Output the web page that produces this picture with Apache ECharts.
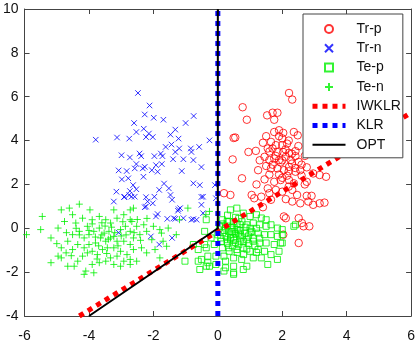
<!DOCTYPE html>
<html>
<head>
<meta charset="utf-8">
<script src="https://cdn.jsdelivr.net/npm/echarts@6/dist/echarts.min.js"></script>
<style>
html, body { margin: 0; padding: 0; background: #fff; }
#chart { width: 418px; height: 343px; }
</style>
</head>
<body>
<div id="chart"></div>
<script>
// training positives (red circles)
const trainPos = [
  [2.21,6.17],[2.31,5.87],[0.77,5.52],[0.90,4.95],[1.53,5.15],[1.70,5.27],[1.85,5.27],[1.75,4.95],
  [0.54,4.14],[1.75,4.39],[1.90,4.47],[2.03,4.35],[2.36,4.39],[2.48,4.24],[1.65,3.94],[1.80,3.79],
  [2.00,3.79],[2.15,3.86],[0.95,3.48],[1.18,3.53],[1.55,3.64],[1.70,3.64],[1.85,3.48],[2.03,3.48],
  [2.21,3.44],[2.41,3.52],[0.46,3.14],[1.45,3.26],[1.60,3.11],[1.75,3.18],[1.90,3.11],[2.11,3.26],
  [2.26,3.11],[2.41,3.29],[2.51,3.03],[1.25,2.65],[1.50,2.84],[1.65,2.73],[1.85,2.73],[2.05,2.65],
  [2.21,2.80],[2.41,2.58],[2.56,2.65],[2.76,2.78],[2.96,2.50],[3.16,2.43],[3.36,2.35],[0.75,2.28],
  [1.45,2.23],[1.75,2.12],[1.95,2.20],[2.21,2.20],[2.36,2.05],[2.76,2.12],[1.55,1.82],[1.80,1.75],
  [2.00,1.67],[2.31,1.75],[2.46,1.52],[2.76,1.48],[2.91,1.48],[1.13,1.37],[1.35,1.44],[1.65,1.30],
  [2.11,1.33],[2.31,1.22],[2.56,1.14],[2.81,1.22],[2.96,1.07],[3.16,1.14],[3.31,1.17],[1.40,0.96],
  [2.05,0.54],[2.11,0.46],[2.51,0.46],[2.61,0.24],[2.84,0.09],[2.66,0.09],[2.03,-0.29],[2.51,-0.67],
  [0.39,1.52],[0.49,4.12],[0.19,1.60],[1.05,1.52],[1.95,3.00],[2.30,2.95],[1.60,2.45],[2.60,2.90],
  [2.00,4.10],[2.50,3.75],[1.40,3.90],[2.70,3.30],[1.90,2.45],[2.15,2.40],[1.60,3.50],[1.80,3.30],
  [2.10,3.60],[2.30,3.40],[1.70,2.90],[2.00,3.10],[2.20,2.60],[1.90,4.20],[2.20,4.00],[1.50,4.20],
  [2.40,2.75],[2.60,2.40],[1.30,3.10],[2.00,2.30],[2.70,2.00],[1.20,2.00],[1.60,1.60],[2.20,1.90]
];
// training negatives (blue crosses)
const trainNeg = [
  [-2.48,6.17],[-2.12,5.60],[-2.27,5.19],[-1.99,5.04],[-1.69,4.95],[-0.75,5.12],[-2.60,4.80],[-1.00,4.80],
  [-2.53,4.39],[-2.30,4.54],[-2.23,4.16],[-2.02,4.16],[-2.14,4.32],[-1.32,4.50],[-1.47,4.27],[-1.22,4.09],
  [-0.26,4.01],[-3.79,4.04],[-3.13,4.14],[-2.75,4.09],[-1.62,3.71],[-1.44,3.82],[-1.20,3.64],[-1.32,3.48],
  [-0.84,3.64],[-0.58,3.71],[-2.99,3.33],[-2.73,3.23],[-2.43,3.41],[-2.38,3.29],[-1.97,3.29],[-1.77,3.41],
  [-1.72,3.29],[-1.39,3.15],[-1.07,3.15],[-0.82,3.48],[-0.76,3.11],[-2.53,2.93],[-2.27,2.80],[-1.92,2.88],
  [-1.74,2.93],[-0.51,2.79],[-3.08,2.64],[-2.83,2.61],[-2.58,2.73],[-2.33,2.73],[-2.05,2.65],[-1.87,2.58],
  [-1.12,2.61],[-2.98,2.23],[-2.78,2.28],[-2.31,2.35],[-1.67,2.04],[-0.76,2.05],[-0.56,1.97],[-2.63,1.97],
  [-2.73,1.70],[-2.53,1.78],[-3.15,1.67],[-1.82,1.75],[-1.52,1.82],[-1.47,1.52],[-2.91,1.42],[-2.75,1.52],
  [-2.23,1.42],[-1.97,1.44],[-1.42,1.30],[-0.51,1.43],[-3.23,1.22],[-2.23,0.99],[-2.18,1.22],[-2.02,1.14],
  [-1.17,0.92],[-1.24,0.80],[-1.87,0.65],[-1.92,0.54],[-0.51,1.07],[-0.46,0.69],[-1.57,0.43],[-1.37,0.46],
  [-1.07,0.46],[-0.82,0.39],[-0.66,0.39],[-0.09,1.97],[-0.06,1.37],[-2.68,1.44],[-2.27,0.96],[-1.32,0.43],
  [-1.22,0.87],[-0.76,0.42],[-2.08,-0.37],[-1.42,-0.44],[-1.82,-0.74],[-2.90,1.44],[-2.58,1.44],[-3.08,-0.20],
  [-0.46,1.44]
];
// test positives (green squares)
const testPos = [
  [0.39,0.84],[0.59,0.92],[0.79,0.69],[1.00,0.54],[1.20,0.62],[1.35,0.47],[1.50,0.39],[0.14,0.39],
  [0.29,0.31],[0.49,0.31],[0.69,0.16],[0.90,0.16],[1.10,0.24],[1.30,0.16],[1.50,0.09],[1.65,0.16],
  [1.85,0.01],[2.00,-0.06],[0.24,0.01],[0.44,-0.14],[0.64,-0.22],[0.85,-0.22],[1.05,-0.14],[1.25,-0.22],
  [1.45,-0.29],[1.65,-0.29],[1.85,-0.37],[0.09,-0.44],[0.29,-0.52],[0.49,-0.44],[0.69,-0.59],[0.90,-0.52],
  [1.10,-0.59],[1.30,-0.67],[1.50,-0.67],[1.75,-0.74],[1.95,-0.67],[-0.11,-0.74],[0.14,-0.89],[0.34,-0.89],
  [0.59,-0.97],[0.79,-0.89],[1.00,-1.05],[1.25,-0.97],[1.45,-1.05],[1.90,-1.05],[-0.31,-1.27],[-0.06,-1.27],
  [0.19,-1.27],[0.49,-1.35],[0.74,-1.42],[1.10,-1.35],[1.35,-1.35],[1.65,-1.20],[1.85,-1.42],[-0.36,-1.73],
  [-0.06,-1.65],[0.24,-1.80],[0.49,-1.73],[0.90,-1.73],[1.55,-1.65],[0.49,-2.10],[0.19,-1.95],[0.79,-1.88],
  [2.36,0.09],[2.41,0.16],[-0.36,0.39],[-0.41,-0.14],[-0.21,-0.44],[-0.36,-0.89],[-0.76,-0.74],[-0.61,-0.97],
  [-0.41,-0.74],[-0.51,-1.42],[-0.26,-1.73],[-0.61,-1.50],[0.49,-2.03],[0.24,-1.50],[-1.02,-1.50],[-0.56,-1.88],
  [-0.31,-1.57],[2.00,-0.29],[2.00,-0.67],[0.40,-0.30],[0.60,-0.05],[0.75,-0.40],[0.35,-0.15],[0.55,-0.65],
  [0.95,-0.35],[0.15,-0.20],[1.15,-0.80],[0.65,0.45],[1.00,0.00],[0.30,0.60],[0.80,-1.20],[1.30,-0.45],
  [0.05,0.10],[0.20,-0.10],[0.30,0.10],[0.45,0.05],[0.55,-0.25],[0.70,-0.10],[0.85,0.05],[0.60,0.20],
  [0.40,-0.45],[0.25,-0.35],[0.50,-0.55],[0.70,-0.30],[0.80,-0.60],[0.65,-0.75],[0.45,-0.80],[0.30,-0.70],
  [1.00,-0.20],[1.10,-0.45],[0.95,-0.70],[1.20,0.00],[0.10,-0.60],[0.35,0.30],[0.55,0.50],[0.15,0.20],
  [0.75,0.30],[0.90,-0.95],[0.60,-1.10],[0.35,-1.05],[1.20,-1.10],[0.00,-0.30],[0.50,-0.15]
];
// test negatives (green pluses)
const testNeg = [
  [-5.94,-0.29],[-5.50,-0.06],[-5.45,0.54],[-4.86,0.84],[-4.61,0.92],[-4.30,1.10],[-3.97,0.84],[-3.23,0.84],
  [-5.18,-0.44],[-4.96,0.01],[-4.76,0.31],[-4.51,0.62],[-4.41,0.24],[-4.20,0.46],[-4.05,0.09],[-3.90,0.39],
  [-3.68,0.54],[-3.48,0.39],[-3.33,0.24],[-3.13,0.46],[-2.92,0.62],[-2.72,0.39],[-2.62,0.92],[-4.86,-0.89],
  [-4.66,-0.59],[-4.51,-0.29],[-4.30,-0.14],[-4.15,-0.44],[-4.00,-0.29],[-3.85,-0.14],[-3.68,0.01],[-3.53,-0.22],
  [-3.38,-0.14],[-3.23,-0.37],[-3.02,-0.06],[-2.87,0.09],[-2.72,-0.14],[-4.96,-1.27],[-4.71,-1.12],[-4.51,-0.97],
  [-4.35,-0.74],[-4.15,-0.89],[-4.00,-0.74],[-3.80,-0.67],[-3.64,-0.44],[-3.48,-0.59],[-3.33,-0.44],[-3.13,-0.59],
  [-2.92,-0.59],[-2.72,-0.74],[-5.18,-1.57],[-4.86,-1.35],[-4.35,-1.50],[-4.20,-1.27],[-4.05,-1.12],[-3.90,-1.05],
  [-3.74,-1.20],[-3.58,-0.97],[-3.43,-0.89],[-3.23,-0.89],[-3.02,-1.05],[-2.82,-1.20],[-4.46,-1.73],[-4.10,-1.95],
  [-3.90,-1.65],[-3.68,-1.57],[-3.48,-1.50],[-3.33,-1.35],[-3.13,-1.27],[-2.92,-1.50],[-2.72,-1.42],[-4.66,-1.73],
  [-3.85,-2.03],[-4.15,-2.10],[-3.02,-1.73],[-3.23,-1.65],[-2.72,0.84],[-2.67,0.31],[-2.52,0.09],[-2.30,0.16],
  [-2.00,0.09],[-1.80,-0.06],[-1.54,0.01],[-1.19,0.39],[-0.93,0.92],[-0.37,0.62],[-0.26,0.77],[-2.62,-0.44],
  [-2.42,-0.29],[-2.21,-0.14],[-2.05,-0.52],[-1.75,-0.22],[-1.70,-0.59],[-2.62,-0.97],[-2.37,-0.89],[-2.21,-1.12],
  [-1.95,-0.97],[-1.80,-1.35],[-2.52,-1.50],[-2.72,-1.65],[-1.59,-0.82],[-1.29,-0.29],[0.20,0.20],[0.50,0.10],
  [0.30,-0.50],[-3.60,-0.30],[-3.40,-0.50],[-3.20,-0.20],[-3.00,-0.35],[-3.50,0.10],[-3.80,-0.40],[-4.00,-0.10],
  [-3.30,0.05],[-3.70,-0.80],[-3.10,-0.80],[-2.85,-0.30],[-2.60,-0.20],[-3.90,0.20],[-4.30,-0.30],[-3.45,-1.15],
  [-4.40,0.00],[-2.95,0.30],[-3.60,0.25],[-4.70,-0.20],[-2.40,-0.55],[-2.50,0.40],[-3.75,-1.40],[-4.55,-1.25],
  [-5.00,-0.70],[-2.20,0.45]
];
// decision boundaries
const iwklrLine = [[-4.3, -4], [6, 5.27]];
const klrLine = [[0, -4], [0, 10]];
const optLine = [[-4, -4], [0, 0], [0, 10]];

const xRange = [-6, 6];
const yRange = [-4, 10];
const tickStep = 2;

const chart = echarts.init(document.getElementById('chart'), null, { renderer: 'canvas' });

const axisColor = '#444';
const font = 'Liberation Sans, Arial, sans-serif';

function makeAxis (range, position, showLabel, margin) {
  return {
    type: 'value',
    min: range[0],
    max: range[1],
    interval: tickStep,
    position: position,
    axisLine: { show: true, onZero: false, lineStyle: { color: axisColor, width: 1 } },
    axisTick: { show: true, inside: true, length: 5, lineStyle: { color: axisColor } },
    splitLine: { show: false },
    axisLabel: { show: showLabel, color: '#111', fontSize: 14, fontFamily: font, margin: margin }
  }
}

const crossPath = 'path://M0,0L10,10M10,0L0,10';
const plusPath = 'path://M5,0L5,10M0,5L10,5';
const squarePath = 'path://M0,0L10,0L10,10L0,10Z';
const green = '#00f000';
const dotted = { width: 5, type: [5, 5], cap: 'butt' };

const option = {
  animation: false,
  backgroundColor: '#fff',
  grid: { left: 22, right: 5, top: 9, bottom: 26 },
  xAxis: [
    makeAxis(xRange, 'bottom', true, 13),
    makeAxis(xRange, 'top', false, 8)
  ],
  yAxis: [
    makeAxis(yRange, 'left', true, 6),
    makeAxis(yRange, 'right', false, 8)
  ],
  legend: {
    orient: 'vertical',
    left: 303,
    top: 14,
    itemWidth: 33,
    itemHeight: 8,
    itemGap: 5.3,
    padding: [8, 2, 6, 7],
    backgroundColor: '#fff',
    borderColor: axisColor,
    borderWidth: 1,
    textStyle: { fontSize: 14, color: '#111', fontFamily: font, padding: [0, 0, 0, 6] },
    data: [
      { name: 'Tr-p' },
      { name: 'Tr-n' },
      { name: 'Te-p', icon: squarePath },
      { name: 'Te-n' },
      { name: 'IWKLR', itemStyle: { opacity: 0 }, lineStyle: dotted },
      { name: 'KLR', itemStyle: { opacity: 0 }, lineStyle: dotted },
      { name: 'OPT', itemStyle: { opacity: 0 }, lineStyle: { width: 2 } }
    ]
  },
  series: [
    {
      name: 'Tr-p', type: 'scatter', data: trainPos,
      symbol: 'circle', symbolSize: 7.5,
      itemStyle: { color: 'rgba(0,0,0,0)', borderColor: '#ff0000', borderWidth: 1 }
    },
    {
      name: 'Tr-n', type: 'scatter', data: trainNeg,
      symbol: crossPath, symbolSize: 5.5,
      itemStyle: { color: 'rgba(0,0,0,0)', borderColor: '#0000ff', borderWidth: 1 }
    },
    {
      name: 'Te-p', type: 'scatter', data: testPos,
      symbol: 'rect', symbolSize: 6,
      itemStyle: { color: 'rgba(0,0,0,0)', borderColor: green, borderWidth: 1 }
    },
    {
      name: 'Te-n', type: 'scatter', data: testNeg,
      symbol: plusPath, symbolSize: 7,
      itemStyle: { color: 'rgba(0,0,0,0)', borderColor: green, borderWidth: 1 }
    },
    {
      name: 'IWKLR', type: 'line', data: iwklrLine, symbol: 'none',
      itemStyle: { color: '#ff0000' },
      lineStyle: { color: '#ff0000', width: 5, type: [5, 5], cap: 'butt' }
    },
    {
      name: 'KLR', type: 'line', data: klrLine, symbol: 'none',
      itemStyle: { color: '#0000ff' },
      lineStyle: { color: '#0000ff', width: 5, type: [5, 5], cap: 'butt' }
    },
    {
      name: 'OPT', type: 'line', data: optLine, symbol: 'none',
      itemStyle: { color: '#000' },
      lineStyle: { color: '#000', width: 2 }
    }
  ]
}

chart.setOption(option)
</script>
</body>
</html>
